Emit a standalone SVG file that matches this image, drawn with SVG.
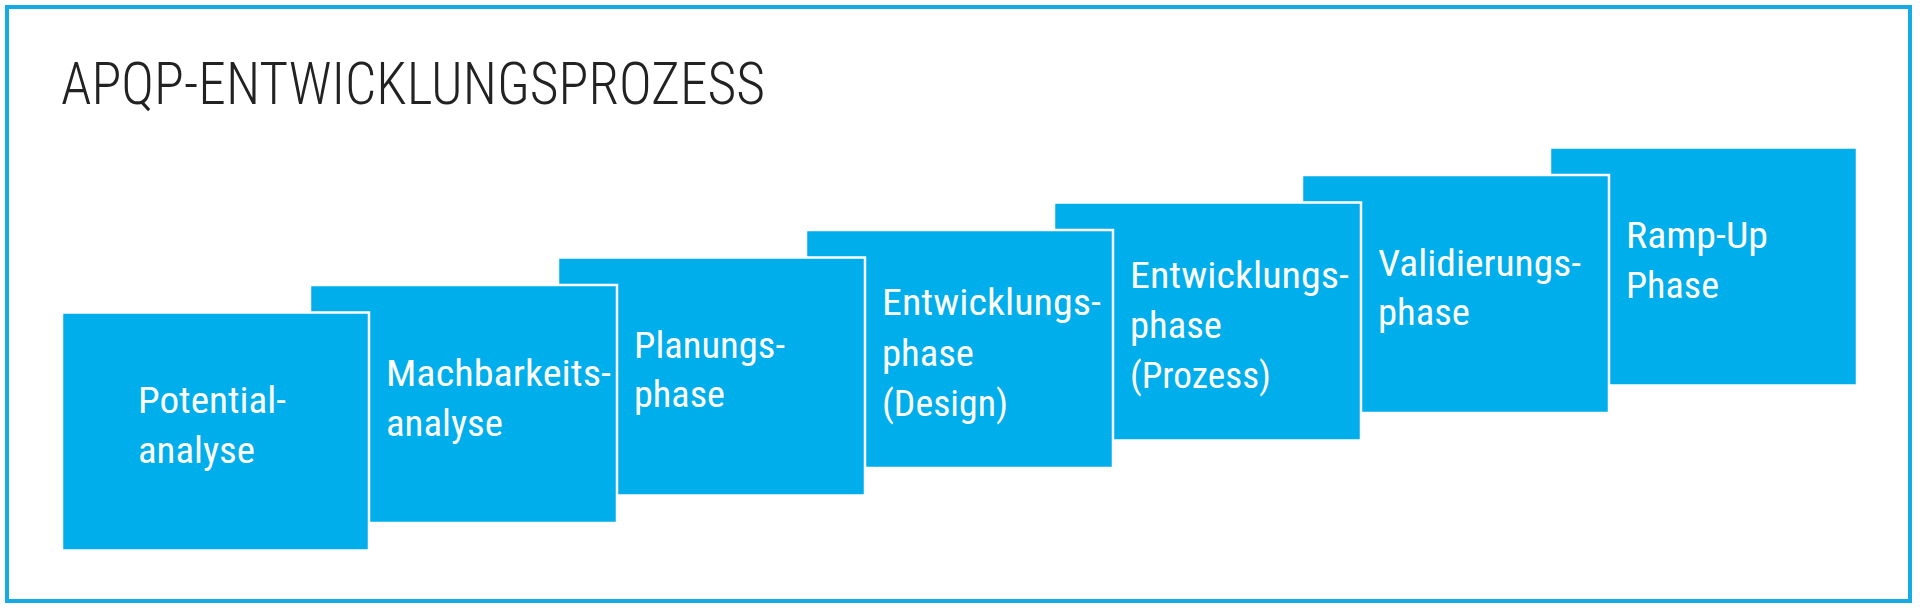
<svg xmlns="http://www.w3.org/2000/svg" width="1920" height="612" viewBox="0 0 1920 612">
<style>
.frame{fill:#ffffff;stroke:#17ABE5;stroke-width:4}
.box{fill:#00AEEB;stroke:#ffffff;stroke-width:2.5}
.lbl{fill:#ffffff;font-family:"Liberation Sans Narrow","Roboto Condensed","DejaVu Sans Condensed","Liberation Sans",Arial,sans-serif;font-stretch:condensed;font-size:37px}
.title{fill:#222222;font-family:"Liberation Sans Narrow","Roboto Condensed","DejaVu Sans Condensed","Liberation Sans",Arial,sans-serif;font-stretch:condensed;font-size:60px;font-weight:300}
</style>
<rect class="frame" x="7" y="7" width="1903" height="594"/>
<text class="title" x="61" y="103.5" textLength="704" lengthAdjust="spacingAndGlyphs">APQP-ENTWICKLUNGSPROZESS</text>
<g id="connectors"/>
<g id="n7">
<rect class="box" x="1550" y="147.5" width="307" height="238"/>
<text class="lbl" x="1626" y="248" textLength="142" lengthAdjust="spacingAndGlyphs">Ramp-Up</text>
<text class="lbl" x="1626" y="298" textLength="93" lengthAdjust="spacingAndGlyphs">Phase</text>
</g>
<g id="n6">
<rect class="box" x="1302" y="175" width="307" height="238"/>
<text class="lbl" x="1378" y="275.5" textLength="203" lengthAdjust="spacingAndGlyphs">Validierungs-</text>
<text class="lbl" x="1378" y="325" textLength="92" lengthAdjust="spacingAndGlyphs">phase</text>
</g>
<g id="n5">
<rect class="box" x="1054" y="202.5" width="307" height="238"/>
<text class="lbl" x="1130" y="288" textLength="219" lengthAdjust="spacingAndGlyphs">Entwicklungs-</text>
<text class="lbl" x="1130" y="338" textLength="92" lengthAdjust="spacingAndGlyphs">phase</text>
<text class="lbl" x="1130" y="388" textLength="141" lengthAdjust="spacingAndGlyphs">(Prozess)</text>
</g>
<g id="n4">
<rect class="box" x="806" y="230" width="307" height="238"/>
<text class="lbl" x="882" y="315" textLength="219" lengthAdjust="spacingAndGlyphs">Entwicklungs-</text>
<text class="lbl" x="882" y="365.5" textLength="92" lengthAdjust="spacingAndGlyphs">phase</text>
<text class="lbl" x="882" y="416" textLength="126" lengthAdjust="spacingAndGlyphs">(Design)</text>
</g>
<g id="n3">
<rect class="box" x="558" y="257.5" width="307" height="238"/>
<text class="lbl" x="634" y="357.5" textLength="151" lengthAdjust="spacingAndGlyphs">Planungs-</text>
<text class="lbl" x="634" y="407" textLength="91" lengthAdjust="spacingAndGlyphs">phase</text>
</g>
<g id="n2">
<rect class="box" x="310" y="285" width="307" height="238"/>
<text class="lbl" x="386" y="386" textLength="225" lengthAdjust="spacingAndGlyphs">Machbarkeits-</text>
<text class="lbl" x="386" y="435.5" textLength="117" lengthAdjust="spacingAndGlyphs">analyse</text>
</g>
<g id="n1">
<rect class="box" x="62" y="312.5" width="307" height="238"/>
<text class="lbl" x="138" y="413" textLength="148" lengthAdjust="spacingAndGlyphs">Potential-</text>
<text class="lbl" x="138" y="462.5" textLength="117" lengthAdjust="spacingAndGlyphs">analyse</text>
</g>
</svg>
